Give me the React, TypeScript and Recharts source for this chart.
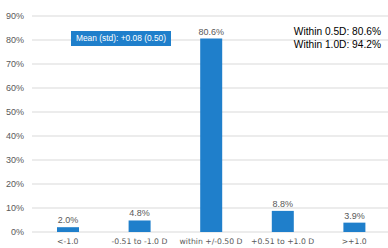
import { BarChart, Bar, XAxis, YAxis, CartesianGrid, LabelList } from "recharts";

const categories = ["<-1.0", "-0.51 to -1.0 D", "within +/-0.50 D", "+0.51 to +1.0 D", ">+1.0"];
const shares = [2.0, 4.8, 80.6, 8.8, 3.9];
const yTicks = [0, 10, 20, 30, 40, 50, 60, 70, 80, 90];
const meanLabel = "Mean (std): +0.08 (0.50)";
const summaryLines = ["Within 0.5D: 80.6%", "Within 1.0D: 94.2%"];

const data = categories.map((name, i) => ({ name, value: shares[i] }));

const BLUE = "#1f7fcb";
const GRAY = "#595959";

export default function App() {
  return (
    <div
      style={{
        position: "absolute",
        left: 0,
        top: 0,
        width: 388,
        height: 248,
        overflow: "hidden",
        background: "#fff",
        fontFamily: "'Liberation Sans', Arial, sans-serif",
      }}
    >
      <BarChart
        width={390}
        height={248}
        data={data}
        margin={{ top: 16, right: 0, bottom: 0, left: 0 }}
        barSize={22}
      >
        <CartesianGrid vertical={false} stroke="#d9d9d9" />
        <XAxis
          dataKey="name"
          height={16}
          axisLine={false}
          tickLine={false}
          tickSize={0}
          tickMargin={7}
          interval={0}
          tick={{ fontSize: 7.7, fill: GRAY, fontFamily: "'DejaVu Sans', sans-serif" }}
        />
        <YAxis
          width={32}
          domain={[0, 90]}
          ticks={yTicks}
          axisLine={false}
          tickLine={false}
          tickSize={0}
          tickMargin={8}
          tickFormatter={(v: number) => `${v}%`}
          tick={{ fontSize: 9, fill: GRAY }}
        />
        <Bar dataKey="value" fill={BLUE} isAnimationActive={false}>
          <LabelList
            dataKey="value"
            position="top"
            offset={4}
            formatter={(v: number) => `${v.toFixed(1)}%`}
            style={{ fontSize: 9, fill: GRAY }}
          />
        </Bar>
      </BarChart>
      <div
        style={{
          position: "absolute",
          left: 71,
          top: 31,
          width: 100,
          height: 15,
          background: BLUE,
          color: "#fff",
          fontSize: 8.4,
          lineHeight: "15px",
          textAlign: "center",
        }}
      >
        {meanLabel}
      </div>
      <div
        style={{
          position: "absolute",
          right: 7,
          top: 26,
          textAlign: "right",
          fontSize: 10.2,
          lineHeight: "12.5px",
          color: "#000",
        }}
      >
        {summaryLines.map((s) => (
          <div key={s}>{s}</div>
        ))}
      </div>
    </div>
  );
}
